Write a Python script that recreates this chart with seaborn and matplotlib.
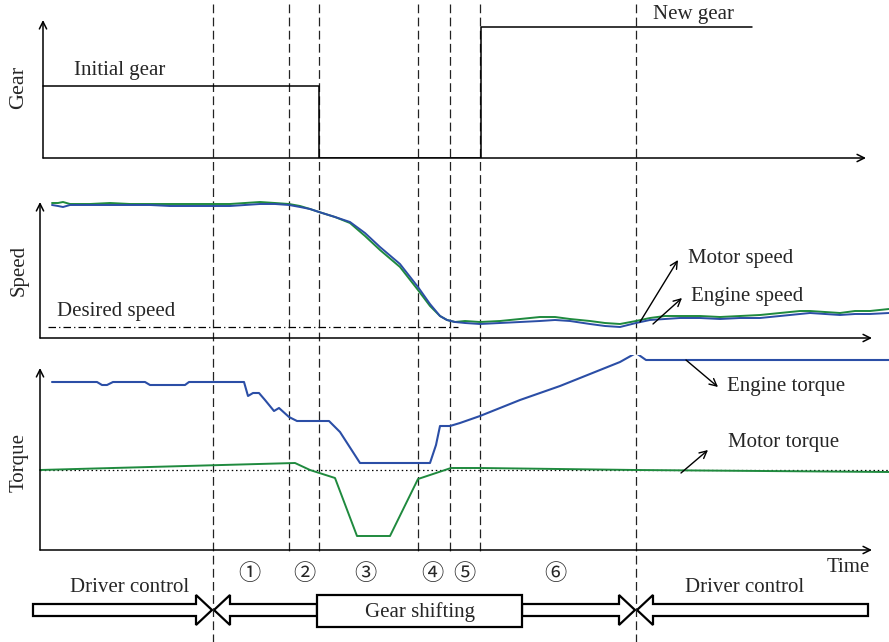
import matplotlib
matplotlib.use("Agg")
import matplotlib.pyplot as plt
import seaborn as sns
from matplotlib.patches import FancyArrow, Rectangle

sns.set_theme(style="white")
plt.rcParams['font.family'] = ['Liberation Serif', 'Noto Sans CJK JP', 'DejaVu Sans']

W, H = 889, 642

# ---------------- data (time in arbitrary units, values in arbitrary units) ----
gear_time = [43, 319, 319, 481, 481, 752]
gear_level = [72, 72, 0, 0, 131, 131]

speed_time = [52, 58, 63, 70, 90, 110, 130, 150, 170, 190, 210, 230, 245, 260, 275,
              289, 300, 310, 319, 335, 350, 365, 380, 400, 418, 430, 440, 447, 455, 465,
              480, 500, 520, 540, 555, 570, 590, 605, 620, 636, 650, 665, 680, 700, 720,
              740, 760, 780, 800, 810, 825, 840, 855, 870, 889]
engine_speed = [133, 132, 131, 133, 133, 133, 133, 133, 132, 132, 132, 132, 133, 134, 134,
                133, 131, 129, 126, 121, 116, 105, 91, 74, 51, 34, 22, 18, 16, 15,
                14, 15, 16, 17, 18, 17, 14, 12, 11, 15, 18, 19, 20, 20, 19,
                20, 20, 22, 24, 25, 24, 23, 24, 24, 25]
motor_speed = [135, 135, 136, 134, 134, 135, 134, 134, 134, 134, 134, 134, 135, 136, 135,
               134, 132, 129, 126, 121, 115, 102, 88, 71, 48, 32, 22, 18, 16, 17,
               16, 17, 19, 21, 21, 19, 17, 15, 14, 17, 20, 22, 22, 22, 21,
               22, 23, 25, 27, 27, 26, 25, 27, 27, 29]
desired_speed_time = [48, 458]
desired_speed = [11, 11]

engine_torque_time = [52, 97, 102, 107, 113, 145, 150, 185, 189, 244, 248, 253, 259, 265,
                      274, 279, 289, 297, 329, 340, 360, 430, 436, 440, 450, 460, 480, 500,
                      520, 540, 560, 580, 600, 620, 636, 646, 889]
engine_torque = [168, 168, 165, 165, 168, 168, 165, 165, 168, 168, 154, 157, 157, 150,
                 139, 142, 133, 129, 129, 118, 87, 87, 105, 124, 124, 127, 134, 142,
                 150, 157, 164, 172, 180, 188, 197, 190, 190]
motor_torque_time = [40, 295, 310, 335, 357, 390, 418, 451, 480, 636, 889]
motor_torque = [80, 87, 80, 72, 14, 14, 71, 82, 82, 80, 78]
zero_torque_time = [40, 889]
zero_torque = [80, 80]

phase_bounds = [213, 289, 319, 418, 450, 480, 636]
control_switch = [213, 636]
phase_labels = ['①', '②', '③', '④', '⑤', '⑥']
phase_label_time = [249, 304, 365, 432, 464, 555]

BLUE = '#2b4ea6'
GREEN = '#1f8a3e'
FS = 15

fig = plt.figure(figsize=(W / 100, H / 100), dpi=100)

# overlay axes in layout coords (x shares the time scale)
ov = fig.add_axes([0, 0, 1, 1])
ov.set_xlim(0, W)
ov.set_ylim(H, 0)
ov.axis('off')


def panel(top_px, bottom_px):
    ax = fig.add_axes([0, 1 - bottom_px / H, 1, (bottom_px - top_px) / H])
    ax.set_xlim(0, W)
    ax.set_ylim(0, bottom_px - top_px)
    ax.axis('off')
    ax.patch.set_alpha(0)
    return ax


def axis_arrows(ax, x0, ytop, xend):
    ap = dict(arrowstyle='->', lw=1.1, color='black', shrinkA=0, shrinkB=0,
              mutation_scale=13)
    ax.annotate('', xy=(x0, ytop), xytext=(x0, 0), arrowprops=ap)
    ax.annotate('', xy=(xend, 0), xytext=(x0, 0), arrowprops=ap)


ap_thin = dict(arrowstyle='->', lw=1.0, color='black', shrinkA=0, shrinkB=0,
               mutation_scale=13)

# vertical dashed phase boundaries
for b in phase_bounds:
    yend = H if b in control_switch else 553
    ov.plot([b, b], [4, yend], color='#222222', lw=0.9, linestyle=(0, (7, 3.5)))

# ---------------- Gear panel ----------------
axg = panel(0, 158)
sns.lineplot(x=gear_time, y=gear_level, ax=axg, color='black', lw=1.1,
             sort=False, estimator=None)
axis_arrows(axg, 43, 138, 866)
axg.text(74, 88, 'Initial gear', fontsize=FS, va='center', ha='left')
axg.text(653, 143, 'New gear', fontsize=FS, va='center', ha='left')
ov.text(19, 87, 'Gear', fontsize=FS + 1, rotation=90, va='center', ha='center')

# ---------------- Speed panel ----------------
axs = panel(180, 338)
sns.lineplot(x=desired_speed_time, y=desired_speed, ax=axs, color='black', lw=0.9,
             linestyle=(0, (6, 2.5, 1, 2.5)), sort=False, estimator=None)
sns.lineplot(x=speed_time, y=motor_speed, ax=axs, color=GREEN, lw=1.4,
             sort=False, estimator=None)
sns.lineplot(x=speed_time, y=engine_speed, ax=axs, color=BLUE, lw=1.4,
             sort=False, estimator=None)
axis_arrows(axs, 40, 136, 872)
axs.text(57, 26, 'Desired speed', fontsize=FS, va='center', ha='left')
axs.annotate('', xy=(678, 78), xytext=(640, 16), arrowprops=ap_thin)
axs.annotate('', xy=(682, 40), xytext=(653, 14), arrowprops=ap_thin)
ov.text(688, 259, 'Motor speed', fontsize=FS, va='center', ha='left')
ov.text(691, 297, 'Engine speed', fontsize=FS, va='center', ha='left')
ov.text(19, 270, 'Speed', fontsize=FS, rotation=90, va='center', ha='center')

# ---------------- Torque panel ----------------
axt = panel(355, 550)
sns.lineplot(x=zero_torque_time, y=zero_torque, ax=axt, color='black', lw=0.9,
             linestyle=(0, (1.2, 2.2)), sort=False, estimator=None)
sns.lineplot(x=motor_torque_time, y=motor_torque, ax=axt, color=GREEN, lw=1.4,
             sort=False, estimator=None)
sns.lineplot(x=engine_torque_time, y=engine_torque, ax=axt, color=BLUE, lw=1.5,
             sort=False, estimator=None)
axis_arrows(axt, 40, 182, 872)
axt.annotate('', xy=(718, 163), xytext=(686, 190), arrowprops=ap_thin)
axt.annotate('', xy=(708, 100), xytext=(681, 77), arrowprops=ap_thin)
ov.text(727, 387, 'Engine torque', fontsize=FS, va='center', ha='left')
ov.text(728, 442, 'Motor torque', fontsize=FS, va='center', ha='left')
ov.text(19, 462, 'Torque', fontsize=FS, rotation=90, va='center', ha='center')

# ---------------- bottom phase annotations ----------------
for t, lab in zip(phase_label_time, phase_labels):
    ov.text(t, 573, lab, fontsize=16, va='center', ha='center',
            family=['Noto Sans CJK JP', 'DejaVu Sans'])
ov.text(848, 568, 'Time', fontsize=FS, va='center', ha='center')

arrow_kw = dict(width=12, head_width=30, head_length=16, length_includes_head=True,
                fc='white', ec='black', lw=1.6)
ov.add_patch(FancyArrow(33, 610, 212 - 33, 0, **arrow_kw))
ov.add_patch(FancyArrow(317, 610, 214 - 317, 0, **arrow_kw))
ov.add_patch(FancyArrow(522, 610, 635 - 522, 0, **arrow_kw))
ov.add_patch(FancyArrow(868, 610, 637 - 868, 0, **arrow_kw))
ov.add_patch(Rectangle((317, 595), 205, 32, fc='white', ec='black', lw=1.6))
ov.text(420, 612, 'Gear shifting', fontsize=FS, va='center', ha='center')
ov.text(130, 588, 'Driver control', fontsize=FS, va='center', ha='center')
ov.text(745, 588, 'Driver control', fontsize=FS, va='center', ha='center')

fig.savefig('out.png', dpi=100)
